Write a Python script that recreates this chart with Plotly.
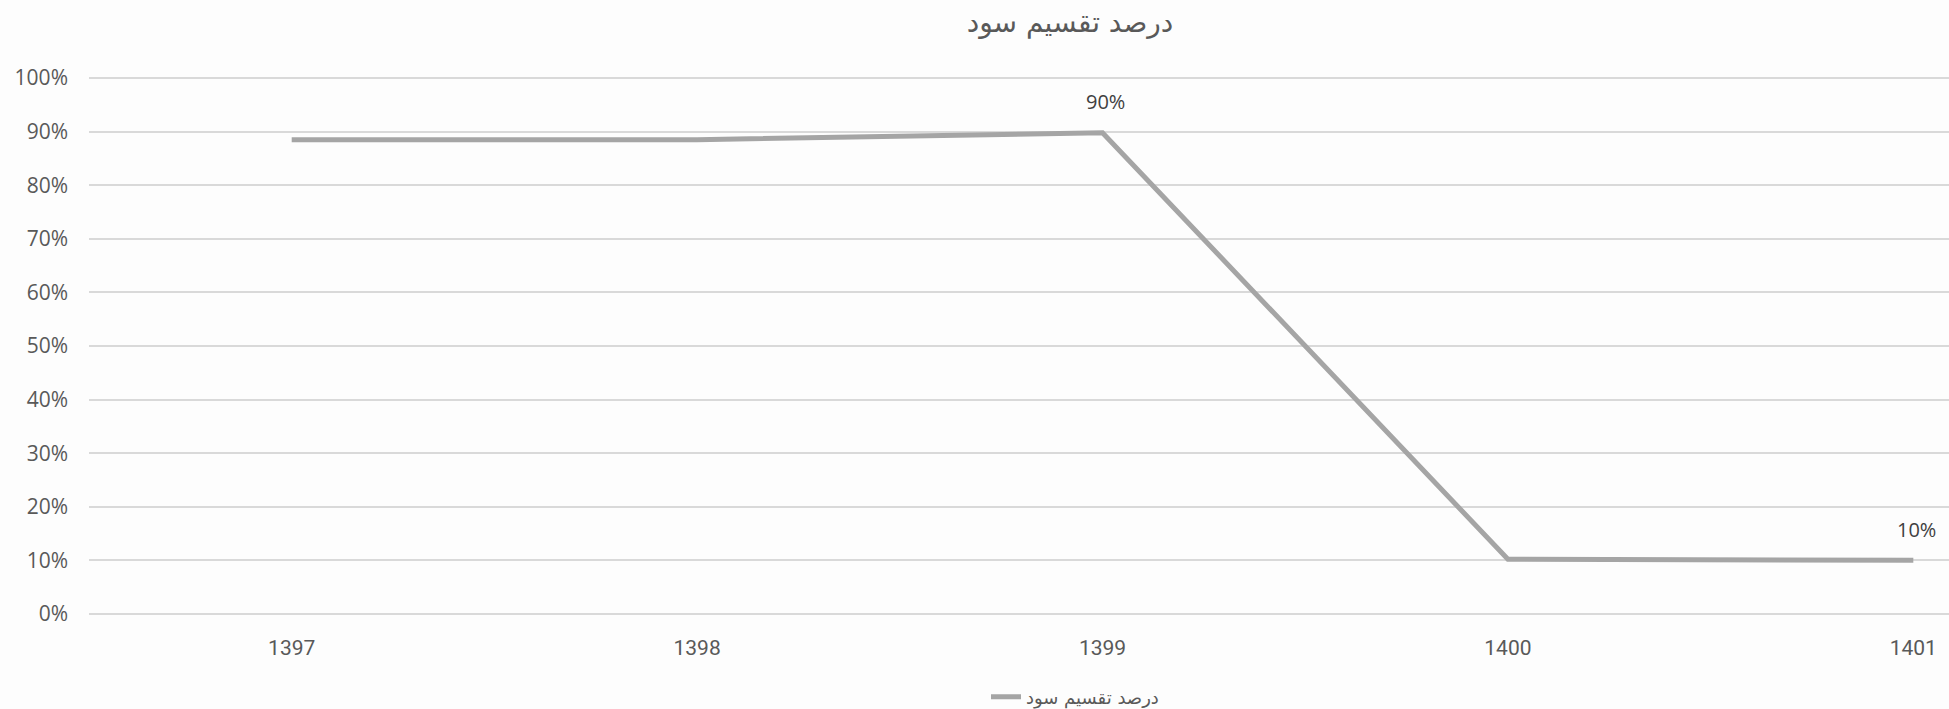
import plotly.graph_objects as go

years = ["1397", "1398", "1399", "1400", "1401"]
payout = [0.885, 0.885, 0.898, 0.102, 0.10]
label_text = ["", "", "90%", "", "10%"]
series_name = "درصد تقسیم سود"
title_text = "درصد تقسیم سود"

xpos = list(range(len(years)))

fig = go.Figure()
fig.add_trace(go.Scatter(
    x=xpos, y=payout, mode="lines", name=series_name,
    line=dict(color="#A5A5A5", width=5),
))

for xi, yi, t in zip(xpos, payout, label_text):
    if t:
        fig.add_annotation(x=xi, y=yi, text=t, showarrow=False, yshift=31,
                           xshift=3, font=dict(size=20, color="#404040", family="Open Sans"))

plot_h = 709 - 77 - 94
fig.update_layout(
    width=1949, height=709,
    paper_bgcolor="#FDFDFD", plot_bgcolor="#FDFDFD",
    margin=dict(l=89, r=0, t=77, b=94, autoexpand=False),
    font=dict(family="Open Sans, DejaVu Sans", color="#595959"),
    title=dict(text=title_text, x=0.549, xref="container", xanchor="center",
               y=1 - 22 / 709, yref="container", yanchor="middle",
               font=dict(size=28, color="#595959", family="DejaVu Sans")),
    showlegend=True,
    legend=dict(orientation="h", x=1075 / 1949, xanchor="center", xref="container",
                y=-(697 - 615) / plot_h, yref="paper", yanchor="middle",
                font=dict(size=18, color="#595959", family="DejaVu Sans"),
                bgcolor="rgba(0,0,0,0)"),
)

fig.update_xaxes(
    range=[-0.5, 4.088], tickvals=xpos, ticktext=years,
    showgrid=False, zeroline=False, showline=False, ticks="",
    tickfont=dict(size=21, color="#595959", family="Roboto"),
    ticklabelstandoff=18, fixedrange=True,
)
fig.update_yaxes(
    range=[-0.002, 1.002], tickvals=[i / 10 for i in range(11)], tickformat=".0%",
    showgrid=True, gridcolor="#D9D9D9", gridwidth=1.5,
    zeroline=False, showline=False, ticks="",
    tickfont=dict(size=21, color="#595959", family="Open Sans"),
    ticklabelstandoff=20, fixedrange=True,
)

fig.write_html("out.html", config={"displayModeBar": False},
               post_script="document.body.style.margin='0px';document.body.style.overflow='hidden';")
